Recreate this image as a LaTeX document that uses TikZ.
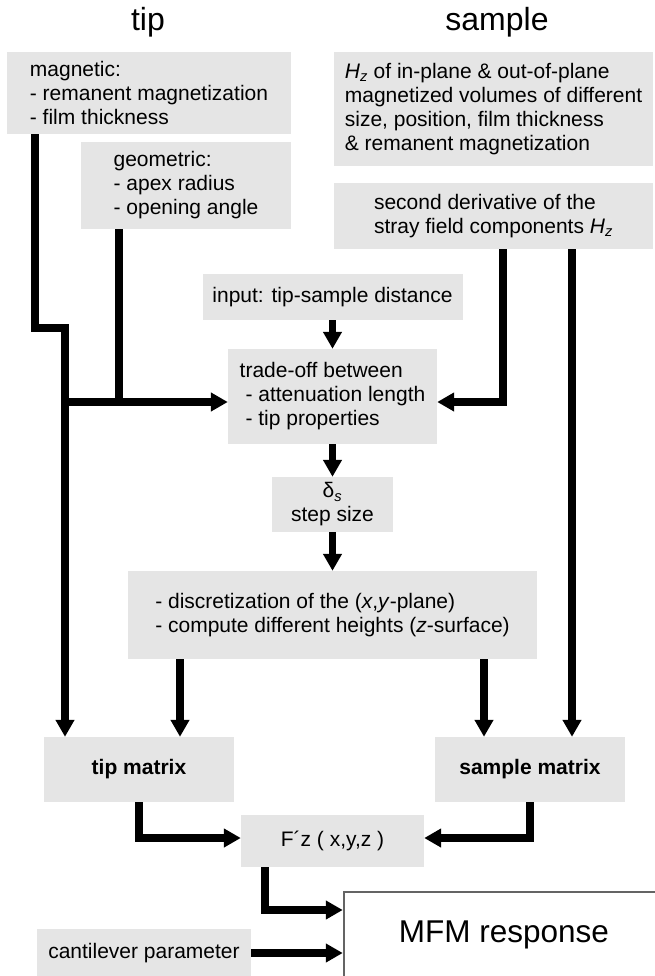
\documentclass[tikz,border=0pt]{standalone}
\usepackage{fontspec}
\setmainfont{Liberation Sans}
\usetikzlibrary{arrows.meta}
\definecolor{boxgray}{RGB}{229,229,229}
\definecolor{framegray}{RGB}{100,100,100}
\begin{document}
\begin{tikzpicture}[x=1pt,y=-1pt,line join=miter,font=\fontsize{21pt}{24pt}\selectfont,
box/.style={fill=boxgray,align=left,inner sep=0pt},
flow/.style={line width=7.5pt,-{Triangle[length=17pt,width=18pt]}},
bar/.style={line width=7.5pt}]
\def\big{\fontsize{32pt}{36pt}\selectfont}
\useasboundingbox (0,0) rectangle (654,976);
\node[font=\big] (tip) at (148,22) {tip};
\node[font=\big] (sample) at (497,22) {sample};
\node[box,minimum width=284pt,minimum height=82pt] (mag) at (149,93) {magnetic:\\- remanent magnetization\\- film thickness};
\node[box,minimum width=210pt,minimum height=87pt] (geo) at (186,185.5) {geometric:\\- apex radius\\- opening angle};
\node[box,minimum width=319pt,minimum height=114pt] (vol) at (493.5,109) {\textit{H}\textsubscript{\textit{z}} of in-plane \& out-of-plane\\magnetized volumes of different\\size, position, film thickness\\\& remanent magnetization};
\node[box,minimum width=319pt,minimum height=66pt] (deriv) at (493.5,216) {second derivative of the\\stray field components \textit{H}\textsubscript{\textit{z}}};
\node[box,minimum width=260pt,minimum height=46pt] (input) at (332.5,297) {input: tip-sample distance};
\node[box,minimum width=209pt,minimum height=95pt] (trade) at (332.5,396.5) {trade-off between\\\ - attenuation length\\\ - tip properties};
\node[box,align=center,minimum width=121pt,minimum height=55pt] (delta) at (332.5,504.5) {δ\textsubscript{\textit{s}}\\step size};
\node[box,minimum width=409pt,minimum height=88pt] (grid) at (332.5,615) {- discretization of the (\textit{x},\textit{y}-plane)\\- compute different heights (\textit{z}-surface)};
\node[box,align=center,minimum width=190pt,minimum height=65pt,font=\fontsize{21pt}{24pt}\selectfont\bfseries] (tipm) at (139,769.5) {tip matrix};
\node[box,align=center,minimum width=190pt,minimum height=65pt,font=\fontsize{21pt}{24pt}\selectfont\bfseries] (samm) at (530,769.5) {sample matrix};
\node[box,align=center,minimum width=183pt,minimum height=52pt] (force) at (332.5,841) {F´z ( x,y,z )};
\node[draw=framegray,line width=2.5pt,fill=white,minimum width=320pt,minimum height=86pt,font=\fontsize{31.5pt}{36pt}\selectfont] (mfm) at (504,935) {MFM response};
\node[box,align=center,minimum width=214pt,minimum height=48pt] (cant) at (144,953) {cantilever parameter};
\coordinate (join) at (65,402);
\draw[flow] ([xshift=-114pt]mag.south) -- ++(0,194) -| ([xshift=-74pt]tipm.north);
\draw[bar] ([xshift=-67pt]geo.south) -- ([xshift=-67pt]geo.south |- join);
\draw[flow] (join) -- (join -| trade.west);
\draw[flow] ([xshift=9.5pt]deriv.south) |- ([yshift=-5.5pt]trade.east);
\draw[flow] ([xshift=78.5pt]deriv.south) -- ([xshift=42pt]samm.north);
\draw[flow] (input.south) -- (trade.north);
\draw[flow] (trade.south) -- (delta.north);
\draw[flow] (delta.south) -- (grid.north);
\draw[flow] ([xshift=-152.5pt]grid.south) -- ([xshift=41pt]tipm.north);
\draw[flow] ([xshift=151.5pt]grid.south) -- ([xshift=-46pt]samm.north);
\draw[flow] (tipm.south) |- ([yshift=3pt]force.west);
\draw[flow] (samm.south) |- ([yshift=3pt]force.east);
\draw[flow] ([xshift=-67.5pt]force.south) |- ([yshift=25pt]mfm.west);
\draw[flow] (cant.east) -- (cant.east -| mfm.west);
\end{tikzpicture}
\end{document}
